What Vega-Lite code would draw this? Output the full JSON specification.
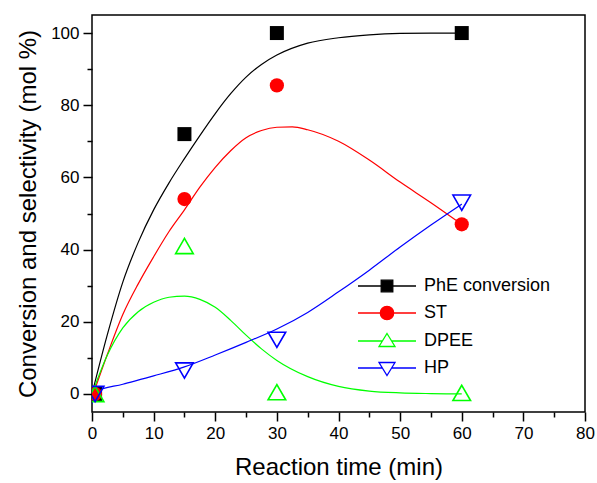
{
  "$schema": "https://vega.github.io/schema/vega-lite/v6.json",
  "width": 493,
  "height": 397,
  "autosize": "none",
  "padding": {"left": 92, "top": 15, "right": 12, "bottom": 71},
  "background": "white",
  "config": {
    "view": {"stroke": "black", "strokeWidth": 1.5},
    "font": "Liberation Sans",
    "legend": {
      "orient": "none",
      "legendX": 284,
      "legendY": 260,
      "padding": 0,
      "symbolSize": 400,
      "symbolStrokeWidth": 1.3,
      "symbolOpacity": 1,
      "labelOffset": 26,
      "rowPadding": 7,
      "labelFont": "Liberation Sans",
      "labelFontSize": 18,
      "labelColor": "black",
      "labelLimit": 300
    }
  },
  "datasets": {
    "curves": [
      {"series": "PhE conversion", "t": 0, "v": 0},
      {"series": "PhE conversion", "t": 2.5, "v": 16.5},
      {"series": "PhE conversion", "t": 5, "v": 31},
      {"series": "PhE conversion", "t": 7.5, "v": 42},
      {"series": "PhE conversion", "t": 10, "v": 51},
      {"series": "PhE conversion", "t": 12.5, "v": 58.5},
      {"series": "PhE conversion", "t": 15, "v": 65.2},
      {"series": "PhE conversion", "t": 17.5, "v": 71.6},
      {"series": "PhE conversion", "t": 20, "v": 77.7},
      {"series": "PhE conversion", "t": 22.5, "v": 83.2},
      {"series": "PhE conversion", "t": 25, "v": 87.8},
      {"series": "PhE conversion", "t": 27.5, "v": 91.3},
      {"series": "PhE conversion", "t": 30, "v": 93.9},
      {"series": "PhE conversion", "t": 35, "v": 97.2},
      {"series": "PhE conversion", "t": 40, "v": 98.7},
      {"series": "PhE conversion", "t": 45, "v": 99.5},
      {"series": "PhE conversion", "t": 50, "v": 99.9},
      {"series": "PhE conversion", "t": 55, "v": 100},
      {"series": "PhE conversion", "t": 60, "v": 100},
      {"series": "ST", "t": 0, "v": -1},
      {"series": "ST", "t": 2.5, "v": 11},
      {"series": "ST", "t": 5, "v": 22},
      {"series": "ST", "t": 7.5, "v": 30.5},
      {"series": "ST", "t": 10, "v": 38},
      {"series": "ST", "t": 12.5, "v": 45},
      {"series": "ST", "t": 15, "v": 51},
      {"series": "ST", "t": 17.5, "v": 57.3},
      {"series": "ST", "t": 20, "v": 62.8},
      {"series": "ST", "t": 22.5, "v": 67.4},
      {"series": "ST", "t": 25, "v": 71},
      {"series": "ST", "t": 27.5, "v": 73},
      {"series": "ST", "t": 30, "v": 73.9},
      {"series": "ST", "t": 32.5, "v": 74},
      {"series": "ST", "t": 35, "v": 73.2},
      {"series": "ST", "t": 40, "v": 70},
      {"series": "ST", "t": 45, "v": 64.8},
      {"series": "ST", "t": 50, "v": 58.7},
      {"series": "ST", "t": 55, "v": 53},
      {"series": "ST", "t": 60, "v": 47},
      {"series": "DPEE", "t": 0, "v": 0},
      {"series": "DPEE", "t": 2.5, "v": 10.8},
      {"series": "DPEE", "t": 5, "v": 18.3},
      {"series": "DPEE", "t": 7.5, "v": 22.8},
      {"series": "DPEE", "t": 10, "v": 25.4},
      {"series": "DPEE", "t": 12.5, "v": 26.8},
      {"series": "DPEE", "t": 15, "v": 27.1},
      {"series": "DPEE", "t": 17.5, "v": 26.2},
      {"series": "DPEE", "t": 20, "v": 24},
      {"series": "DPEE", "t": 22.5, "v": 20.4},
      {"series": "DPEE", "t": 25, "v": 16.3},
      {"series": "DPEE", "t": 27.5, "v": 12.5},
      {"series": "DPEE", "t": 30, "v": 9.3},
      {"series": "DPEE", "t": 35, "v": 4.8},
      {"series": "DPEE", "t": 40, "v": 2.1},
      {"series": "DPEE", "t": 45, "v": 0.8},
      {"series": "DPEE", "t": 50, "v": 0.3},
      {"series": "DPEE", "t": 55, "v": 0.1},
      {"series": "DPEE", "t": 60, "v": 0},
      {"series": "HP", "t": 0, "v": -2.7},
      {"series": "HP", "t": 0.5, "v": 0.6},
      {"series": "HP", "t": 5, "v": 2.7},
      {"series": "HP", "t": 10, "v": 5},
      {"series": "HP", "t": 15, "v": 7.5},
      {"series": "HP", "t": 20, "v": 10.8},
      {"series": "HP", "t": 25, "v": 14.3},
      {"series": "HP", "t": 30, "v": 18},
      {"series": "HP", "t": 35, "v": 22.6},
      {"series": "HP", "t": 40, "v": 28.3},
      {"series": "HP", "t": 45, "v": 34.3},
      {"series": "HP", "t": 50, "v": 40.7},
      {"series": "HP", "t": 55, "v": 46.8},
      {"series": "HP", "t": 60, "v": 52.6}
    ],
    "points": [
      {"series": "PhE conversion", "t": 0.5, "v": 0},
      {"series": "PhE conversion", "t": 15, "v": 72},
      {"series": "PhE conversion", "t": 30, "v": 100},
      {"series": "PhE conversion", "t": 60, "v": 100},
      {"series": "ST", "t": 0.5, "v": 0},
      {"series": "ST", "t": 15, "v": 54},
      {"series": "ST", "t": 30, "v": 85.5},
      {"series": "ST", "t": 60, "v": 47},
      {"series": "DPEE", "t": 0.5, "v": 0},
      {"series": "DPEE", "t": 15, "v": 41},
      {"series": "DPEE", "t": 30, "v": 0.5},
      {"series": "DPEE", "t": 60, "v": 0.3},
      {"series": "HP", "t": 0.5, "v": 0},
      {"series": "HP", "t": 15, "v": 6.5},
      {"series": "HP", "t": 30, "v": 15},
      {"series": "HP", "t": 60, "v": 53}
    ]
  },
  "encoding": {
    "x": {
      "field": "t",
      "type": "quantitative",
      "scale": {"domain": [0, 80], "nice": false, "zero": false},
      "axis": {
        "title": "Reaction time (min)",
        "values": [0, 5, 10, 15, 20, 25, 30, 35, 40, 45, 50, 55, 60, 65, 70, 75, 80],
        "labelExpr": "datum.value % 10 === 0 ? datum.label : ''",
        "tickSize": {"condition": {"test": "datum.value % 10 === 0", "value": 9}, "value": 5},
        "tickWidth": 1.5,
        "tickColor": "black",
        "domain": false,
        "grid": false,
        "labelFont": "Liberation Sans",
        "labelFontSize": 17,
        "labelColor": "black",
        "labelPadding": 4,
        "labelFlush": false,
        "labelOverlap": false,
        "titleFont": "Liberation Sans",
        "titleFontSize": 24,
        "titleFontWeight": "normal",
        "titleColor": "black",
        "titlePadding": 14
      }
    },
    "y": {
      "field": "v",
      "type": "quantitative",
      "scale": {"domain": [-5, 105], "nice": false, "zero": false},
      "axis": {
        "title": "Conversion and selectivity (mol %)",
        "values": [0, 10, 20, 30, 40, 50, 60, 70, 80, 90, 100],
        "labelExpr": "datum.value % 20 === 0 ? datum.label : ''",
        "tickSize": {"condition": {"test": "datum.value % 20 === 0", "value": 9}, "value": 5},
        "tickWidth": 1.5,
        "tickColor": "black",
        "domain": false,
        "grid": false,
        "labelFont": "Liberation Sans",
        "labelFontSize": 17,
        "labelColor": "black",
        "labelPadding": 4,
        "labelFlush": false,
        "labelOverlap": false,
        "titleFont": "Liberation Sans",
        "titleFontSize": 24,
        "titleFontWeight": "normal",
        "titleColor": "black",
        "titlePadding": 10
      }
    }
  },
  "layer": [
    {
      "data": {"name": "points"},
      "transform": [{"filter": "datum.t < 0"}],
      "mark": {"type": "point", "size": 400, "strokeWidth": 1.3, "opacity": 1},
      "encoding": {
        "shape": {
          "field": "series",
          "type": "nominal",
          "scale": {
            "domain": ["PhE conversion", "ST", "DPEE", "HP"],
            "range": [
              "M-2.9,0H2.9M-0.58,-0.58H0.58V0.58H-0.58Z",
              "M-2.9,0H2.9M-0.67,0A0.67,0.67,0,1,1,0.67,0A0.67,0.67,0,1,1,-0.67,0Z",
              "M-2.9,0H-0.46M0.46,0H2.9M0,-0.75L0.8,0.55L-0.8,0.55Z",
              "M-2.9,0H-0.46M0.46,0H2.9M0,0.75L0.8,-0.55L-0.8,-0.55Z"
            ]
          },
          "legend": {"title": null}
        },
        "fill": {
          "field": "series",
          "type": "nominal",
          "scale": {"domain": ["PhE conversion", "ST", "DPEE", "HP"], "range": ["#000000", "#ff0000", "transparent", "transparent"]},
          "legend": {"title": null}
        },
        "stroke": {
          "field": "series",
          "type": "nominal",
          "scale": {"domain": ["PhE conversion", "ST", "DPEE", "HP"], "range": ["#000000", "#ff0000", "#00ff00", "#0000ff"]},
          "legend": {"title": null}
        }
      }
    },
    {
      "data": {"name": "curves"},
      "mark": {"type": "line", "strokeWidth": 1.2, "interpolate": "monotone", "clip": true},
      "encoding": {
        "stroke": {
          "field": "series",
          "type": "nominal",
          "legend": {"title": null}
        }
      }
    },
    {
      "data": {"name": "points"},
      "transform": [{"filter": "datum.series === 'PhE conversion'"}],
      "mark": {"type": "point", "shape": "square", "filled": true, "color": "#000000", "size": 196, "opacity": 1, "clip": true}
    },
    {
      "data": {"name": "points"},
      "transform": [{"filter": "datum.series === 'ST'"}],
      "mark": {"type": "point", "shape": "circle", "filled": true, "color": "#ff0000", "size": 201, "opacity": 1, "clip": true}
    },
    {
      "data": {"name": "points"},
      "transform": [{"filter": "datum.series === 'DPEE'"}],
      "mark": {"type": "point", "shape": "triangle-up", "filled": false, "color": "#00ff00", "strokeWidth": 1.6, "size": 310, "opacity": 1, "clip": true}
    },
    {
      "data": {"name": "points"},
      "transform": [{"filter": "datum.series === 'HP'"}],
      "mark": {"type": "point", "shape": "triangle-down", "filled": false, "color": "#0000ff", "strokeWidth": 1.6, "size": 310, "opacity": 1, "clip": true}
    }
  ]
}
